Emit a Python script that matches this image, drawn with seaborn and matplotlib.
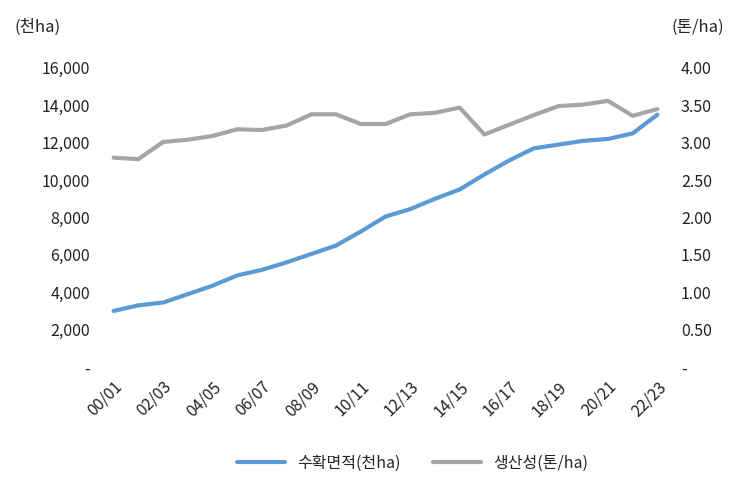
import matplotlib
matplotlib.use("Agg")
import matplotlib.pyplot as plt
import seaborn as sns
import pandas as pd
from matplotlib.ticker import FuncFormatter

sns.set_style("white")
plt.rcParams['font.family'] = ['Noto Sans CJK KR', 'DejaVu Sans']

years = ["00/01","01/02","02/03","03/04","04/05","05/06","06/07","07/08","08/09","09/10","10/11","11/12",
         "12/13","13/14","14/15","15/16","16/17","17/18","18/19","19/20","20/21","21/22","22/23"]
area = [3000,3300,3450,3900,4350,4900,5200,5600,6050,6500,7250,8050,8450,9000,9500,10300,11050,11700,11900,12100,12200,12500,13500]
prod = [2.80,2.78,3.01,3.04,3.09,3.18,3.17,3.23,3.38,3.38,3.25,3.25,3.38,3.40,3.47,3.11,3.24,3.37,3.49,3.51,3.56,3.36,3.45]

df = pd.DataFrame({"x": range(len(years)), "area": area, "prod": prod})

fig, ax = plt.subplots(figsize=(7.5, 4.96), dpi=100)
ax2 = ax.twinx()
sns.lineplot(data=df, x="x", y="area", ax=ax, color="#5B9BD5", lw=3, label="수확면적(천ha)", legend=False)
sns.lineplot(data=df, x="x", y="prod", ax=ax2, color="#A5A5A5", lw=3, label="생산성(톤/ha)", legend=False)

ax.set_ylim(0, 16000); ax.set_yticks(range(0, 16001, 2000))
ax2.set_ylim(0, 4); ax2.set_yticks([i*0.5 for i in range(9)])
ax.yaxis.set_major_formatter(FuncFormatter(lambda v, p: "-" if v == 0 else f"{int(v):,}"))
ax2.yaxis.set_major_formatter(FuncFormatter(lambda v, p: "-" if v == 0 else f"{v:.2f}"))
ax.set_xlim(-0.5, len(years) - 0.5)
ax.set_xticks(range(0, len(years), 2))
ax.set_xticklabels(years[::2], rotation=45, ha="right", rotation_mode="anchor")
for a in (ax, ax2):
    a.set_xlabel(""); a.set_ylabel("")
    for s in a.spines.values():
        s.set_visible(False)
    a.tick_params(length=0, labelsize=11.5, colors="#222222", pad=8)

fig.text(0.02, 0.935, "(천ha)", fontsize=12)
fig.text(0.895, 0.935, "(톤/ha)", fontsize=12)
h1, l1 = ax.get_legend_handles_labels(); h2, l2 = ax2.get_legend_handles_labels()
fig.legend(h1 + h2, l1 + l2, loc="lower center", ncol=2, frameon=False, fontsize=11.5,
           bbox_to_anchor=(0.55, 0.02), handlelength=3)
fig.subplots_adjust(left=0.135, right=0.893, top=0.863, bottom=0.26)
fig.savefig("out.png", dpi=100)
